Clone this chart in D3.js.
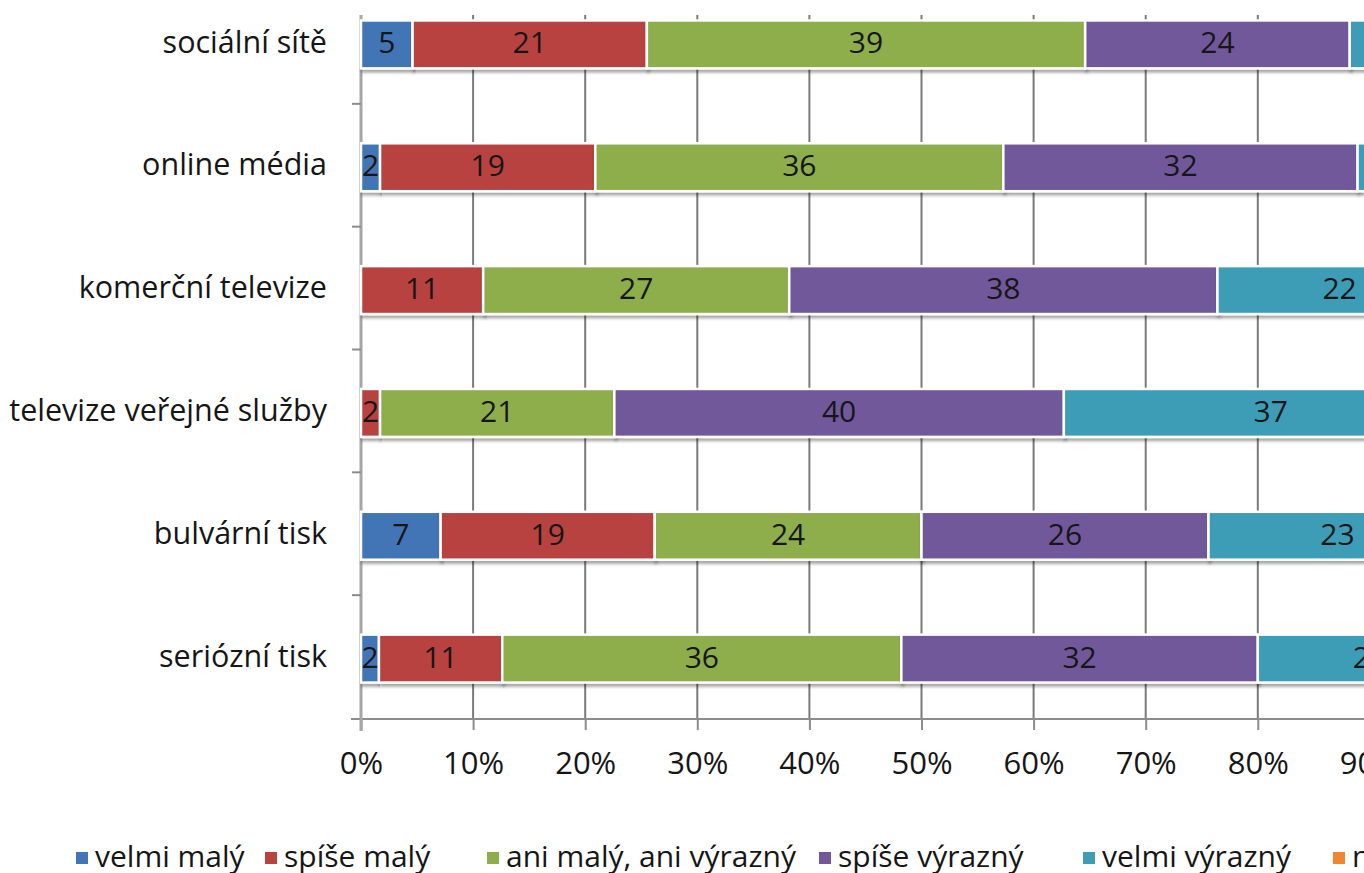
<!DOCTYPE html>
<html>
<head>
  <meta charset="utf-8">
  <script src="https://d3js.org/d3.v7.min.js"></script>
  <style>
    body { margin: 0; background: #fff; }
    text { font-family: "Open Sans", Lato, sans-serif; fill: #161616; }
  </style>
</head>
<body>
<script>
// data (percent shares; labels show rounded values)
var categories = ["sociální sítě", "online média", "komerční televize",
                  "televize veřejné služby", "bulvární tisk", "seriózní tisk"];
var seriesNames = ["velmi malý", "spíše malý", "ani malý, ani výrazný",
                   "spíše výrazný", "velmi výrazný", "nevím"];
var velmiMaly    = [4.6, 1.7, 0, 0, 7.1, 1.6];
var spiseMaly    = [20.9, 19.2, 10.9, 1.7, 19.1, 11.0];
var aniMaly      = [39.1, 36.4, 27.3, 20.9, 23.8, 35.6];
var spiseVyrazny = [23.6, 31.6, 38.2, 40.1, 25.6, 31.8];
var velmiVyrazny = [11.8, 11.1, 21.8, 36.9, 23.0, 20.0];
var nevim        = [0, 0, 1.8, 0.4, 1.4, 0];
var xTicks = [0, 10, 20, 30, 40, 50, 60, 70, 80, 90, 100];

var colors = ["#4374b6", "#b8433f", "#8ead4b", "#71589a", "#3e9db6", "#ef8631"];
var seriesValues = [velmiMaly, spiseMaly, aniMaly, spiseVyrazny, velmiVyrazny, nevim];

var W = 1364, H = 873;
var x0 = 361, axisY = 719, plotTop = 15;

var rows = categories.map(function(c, i) {
  var r = { cat: c };
  seriesNames.forEach(function(s, j) { r[s] = seriesValues[j][i]; });
  return r;
});
var stacked = d3.stack().keys(seriesNames)(rows);

var x = d3.scaleLinear().domain([0, 100]).range([x0, x0 + 1121]);
var y = d3.scaleBand().domain(categories).range([-18, axisY])
    .paddingInner(0.61).paddingOuter(0.305);

var svg = d3.select("body").append("svg")
    .attr("width", W).attr("height", H);

var defs = svg.append("defs");
var f = defs.append("filter").attr("id", "sh").attr("x", "-5%").attr("y", "-20%")
    .attr("width", "110%").attr("height", "150%");
f.append("feDropShadow").attr("dx", 1.5).attr("dy", 3).attr("stdDeviation", 1.5)
    .attr("flood-color", "#000").attr("flood-opacity", 0.35);

// gridlines
svg.append("g")
  .selectAll("line").data(xTicks.filter(function(d) { return d > 0; }))
  .join("line")
    .attr("x1", function(d) { return x(d); }).attr("x2", function(d) { return x(d); })
    .attr("y1", plotTop).attr("y2", axisY)
    .attr("stroke", "#7a7a7a").attr("stroke-width", 2);

// x axis
var xAxis = svg.append("g")
    .attr("transform", "translate(0," + axisY + ")")
    .call(d3.axisBottom(x).tickValues(xTicks).tickSize(11).tickPadding(22)
      .tickFormat(function(d) { return d + "%"; }));
xAxis.select(".domain").attr("stroke", "#8c8c8c").attr("stroke-width", 2)
    .attr("d", "M" + (x0 - 10) + ",0H" + W);
xAxis.selectAll(".tick line").attr("stroke", "#8c8c8c").attr("stroke-width", 2);
xAxis.selectAll(".tick text").style("font-size", "31px").attr("fill", "#161616");

// y axis
var yAxis = svg.append("g").attr("transform", "translate(" + x0 + ",0)");
yAxis.append("line").attr("x1", 0).attr("x2", 0).attr("y1", plotTop).attr("y2", axisY + 12)
    .attr("stroke", "#a6a6a6").attr("stroke-width", 3);
yAxis.selectAll("line.tk").data(categories.slice(1))
  .join("line").attr("class", "tk")
    .attr("x1", -9).attr("x2", 0)
    .attr("y1", function(d) { return y(d) - y.step() * y.paddingInner() / 2 - 1; })
    .attr("y2", function(d) { return y(d) - y.step() * y.paddingInner() / 2 - 1; })
    .attr("stroke", "#8c8c8c").attr("stroke-width", 2);
yAxis.selectAll("text").data(categories)
  .join("text")
    .attr("x", -34)
    .attr("y", function(d) { return y(d) + y.bandwidth() / 2 + 1; })
    .attr("text-anchor", "end").attr("dominant-baseline", "middle")
    .style("font-size", "30.5px")
    .text(function(d) { return d; });

// bars
var layer = svg.append("g").selectAll("g").data(stacked).join("g")
    .attr("fill", function(d, i) { return colors[i]; });
layer.selectAll("rect").data(function(d) { return d; })
  .join("rect")
    .attr("x", function(d) { return x(d[0]); })
    .attr("y", function(d) { return y(d.data.cat) + 1; })
    .attr("width", function(d) { return Math.max(0, x(d[1]) - x(d[0])); })
    .attr("height", y.bandwidth())
    .attr("stroke", "#fff").attr("stroke-width", 2.5)
    .attr("filter", "url(#sh)");

// value labels (series "nevím" has no visible labels)
var lab = svg.append("g").selectAll("g").data(stacked.slice(0, 5)).join("g");
lab.selectAll("text").data(function(d) { return d.filter(function(p) { return p[1] - p[0] > 0; }); })
  .join("text")
    .attr("x", function(d) { return x((d[0] + d[1]) / 2); })
    .attr("y", function(d) { return y(d.data.cat) + y.bandwidth() / 2 + 2; })
    .attr("text-anchor", "middle").attr("dominant-baseline", "middle")
    .style("font-size", "30px").attr("fill", "#111")
    .text(function(d) { return Math.round(d[1] - d[0]); });

// legend
var legendX = [76, 265, 487, 819, 1083, 1333];
var lg = svg.append("g").selectAll("g").data(seriesNames).join("g")
    .attr("transform", function(d, i) { return "translate(" + legendX[i] + ",858)"; });
lg.append("rect").attr("x", 0).attr("y", -6).attr("width", 12).attr("height", 12)
    .attr("fill", function(d, i) { return colors[i]; });
lg.append("text").attr("x", 19).attr("y", 1)
    .attr("dominant-baseline", "middle").style("font-size", "30px")
    .text(function(d) { return d; });
</script>
</body>
</html>
